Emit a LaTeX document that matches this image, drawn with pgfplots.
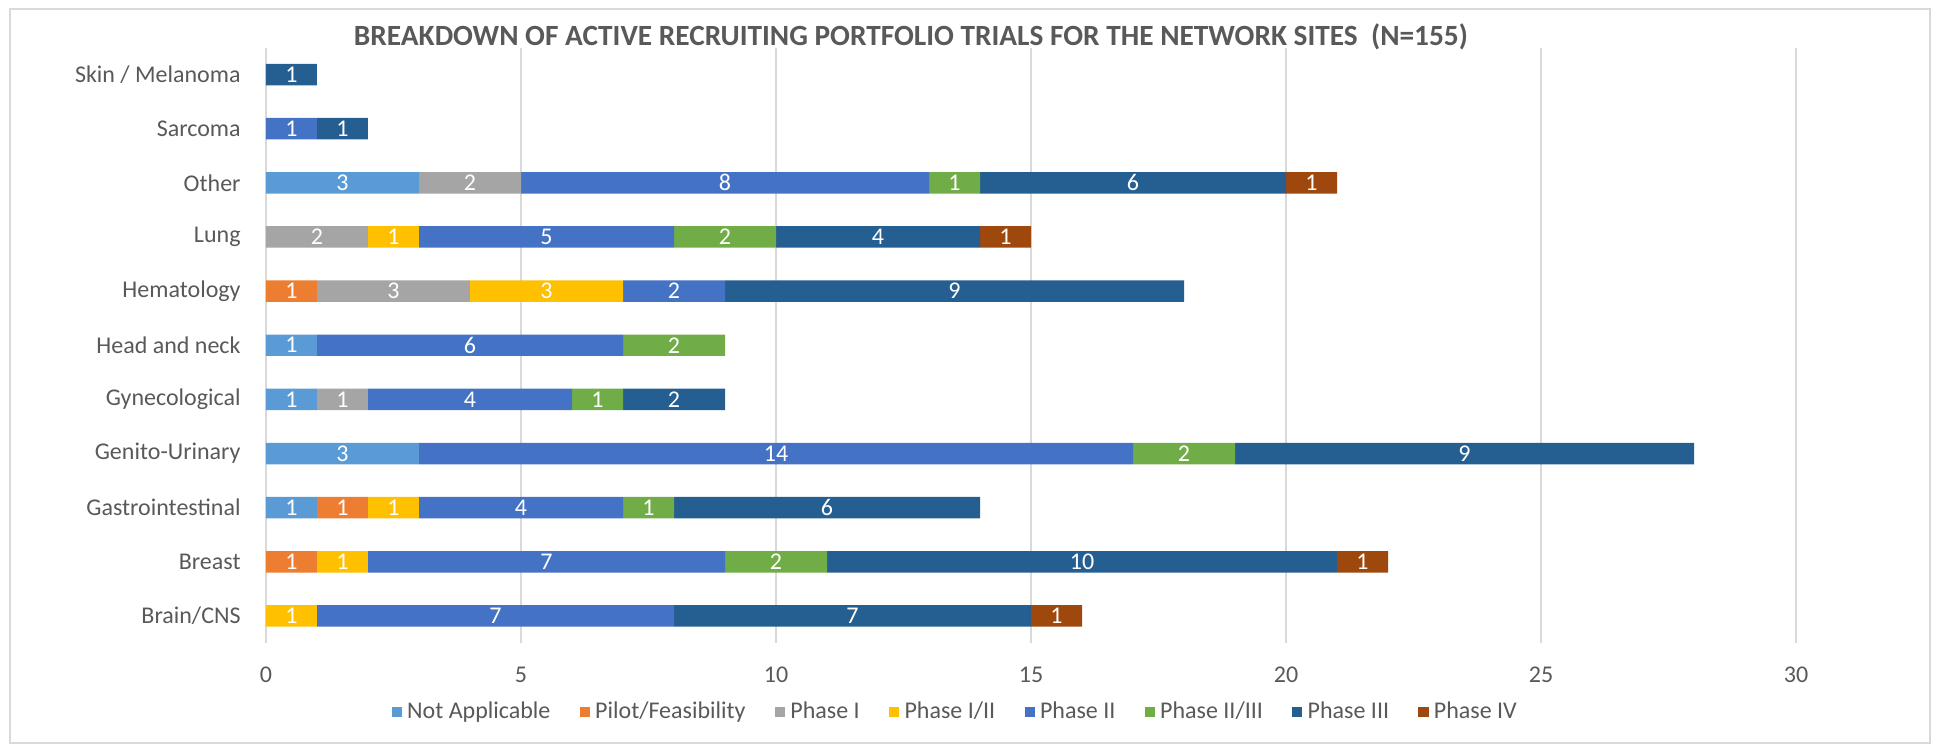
\documentclass[border=0pt]{standalone}
\usepackage{pgfplots}
\usepackage{pgfplotstable}
\pgfplotsset{compat=1.18}
\usepackage{fontspec}
\setmainfont{Carlito}
\definecolor{cNA}{HTML}{5B9BD5}
\definecolor{cPF}{HTML}{ED7D31}
\definecolor{cP1}{HTML}{A5A5A5}
\definecolor{cP12}{HTML}{FFC000}
\definecolor{cP2}{HTML}{4472C4}
\definecolor{cP23}{HTML}{70AD47}
\definecolor{cP3}{HTML}{255E91}
\definecolor{cP4}{HTML}{9E480E}
\definecolor{textgray}{HTML}{595959}
\definecolor{gridgray}{HTML}{D9D9D9}
\pgfplotstableread{
idx NA PF P1 P12 P2 P23 P3 P4
0 0 0 0 1 7 0 7 1
1 0 1 0 1 7 2 10 1
2 1 1 0 1 4 1 6 0
3 3 0 0 0 14 2 9 0
4 1 0 1 0 4 1 2 0
5 1 0 0 0 6 2 0 0
6 0 1 3 3 2 0 9 0
7 0 0 2 1 5 2 4 1
8 3 0 2 0 8 1 6 1
9 0 0 0 0 1 0 1 0
10 0 0 0 0 0 0 1 0
}\datatable
\pgfplotsset{
  sq/.style={legend image code/.code={\fill[##1] (0pt,-1.9pt) rectangle (3.8pt,1.9pt);}},
  seg/.style={fill=c#1, draw=none, sq, point meta=\thisrow{#1}}
}
\begin{document}
\begin{tikzpicture}
\path[use as bounding box] (0pt,0pt) rectangle (727.125pt,279.75pt);
\draw[line width=0.75pt, color=gridgray] (3.75pt,1.2pt) rectangle (723.75pt,276.4pt);
\begin{axis}[
  at={(99.75pt,38.625pt)}, anchor=south west,
  scale only axis, width=573.75pt, height=223.3pt,
  xbar stacked, bar width=8.06pt,
  xmin=0, xmax=30, ymin=-0.5, ymax=10.5,
  xtick={0,5,...,30},
  ytick={0,...,10},
  yticklabels={Brain/CNS,Breast,Gastrointestinal,Genito-Urinary,Gynecological,Head and neck,Hematology,Lung,Other,Sarcoma,Skin / Melanoma},
  /pgf/number format/assume math mode=true,
  axis line style={draw=none},
  major tick length=0pt,
  tick style={draw=none},
  xmajorgrids, ymajorgrids=false,
  grid style={color=gridgray, line width=0.6pt},
  ticklabel style={font=\fontsize{9}{10}\selectfont, color=textgray},
  xticklabel style={yshift=-5.6pt},
  yticklabel style={xshift=-6pt},
  nodes near coords={\pgfmathfloatifflags{\pgfplotspointmeta}{0}{}{\pgfmathprintnumber{\pgfplotspointmeta}}},
  every node near coord/.append style={font=\fontsize{9}{10}\selectfont, color=white, anchor=center},
  legend style={draw=none, fill=none, at={(0.4516,0)}, anchor=center, yshift=-25.9pt,
    font=\fontsize{9}{10}\selectfont, text=textgray,
    /tikz/every even column/.append style={column sep=9pt}},
  legend columns=-1,
  legend cell align=left,
]
\addplot[seg=NA] table[x=NA,y=idx]{\datatable};
\addlegendentry{Not Applicable}
\addplot[seg=PF] table[x=PF,y=idx]{\datatable};
\addlegendentry{Pilot/Feasibility}
\addplot[seg=P1] table[x=P1,y=idx]{\datatable};
\addlegendentry{Phase I}
\addplot[seg=P12] table[x=P12,y=idx]{\datatable};
\addlegendentry{Phase I/II}
\addplot[seg=P2] table[x=P2,y=idx]{\datatable};
\addlegendentry{Phase II}
\addplot[seg=P23] table[x=P23,y=idx]{\datatable};
\addlegendentry{Phase II/III}
\addplot[seg=P3] table[x=P3,y=idx]{\datatable};
\addlegendentry{Phase III}
\addplot[seg=P4] table[x=P4,y=idx]{\datatable};
\addlegendentry{Phase IV}
\end{axis}
\node[font=\bfseries\fontsize{11}{13}\selectfont, color=textgray] at (341.6pt,265.9pt) {BREAKDOWN OF ACTIVE RECRUITING PORTFOLIO TRIALS FOR THE NETWORK SITES\ \ (N=155)};
\end{tikzpicture}
\end{document}
